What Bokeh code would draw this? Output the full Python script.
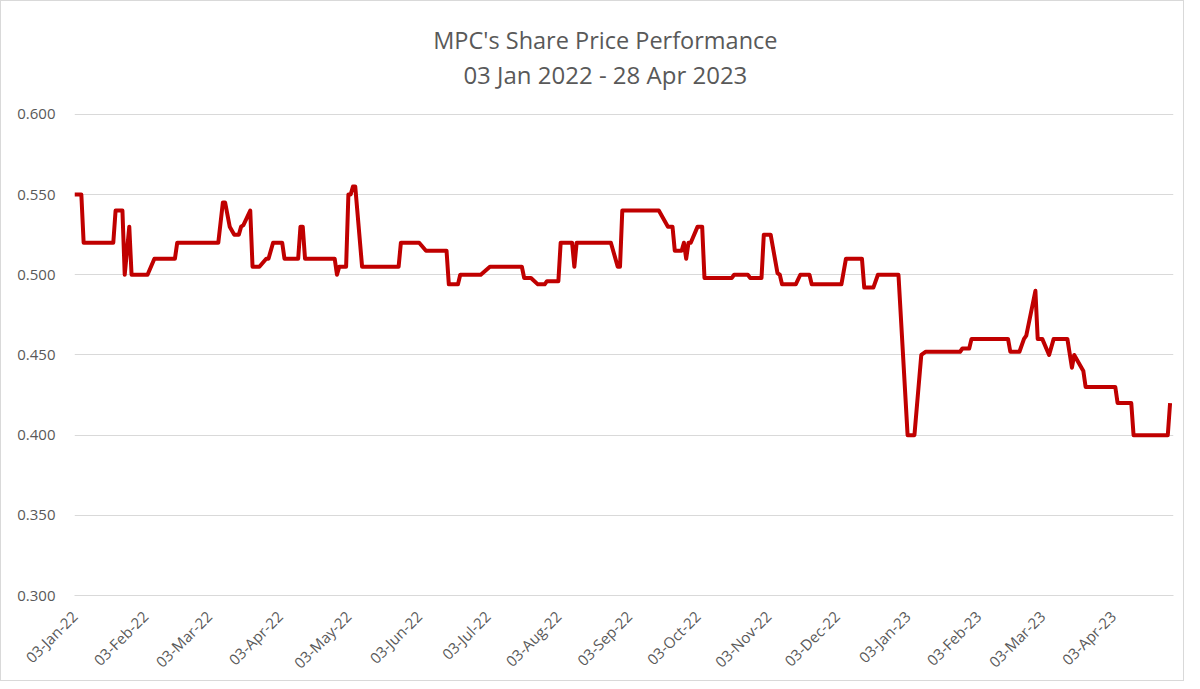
import math
from datetime import datetime
import pandas as pd
from bokeh.plotting import figure
from bokeh.models import FixedTicker, DatetimeTickFormatter, NumeralTickFormatter, Range1d, Label
from bokeh.embed import file_html
from bokeh.resources import INLINE

dates = [
    "2022-01-03", "2022-01-06", "2022-01-07", "2022-01-20", "2022-01-21", "2022-01-24",
    "2022-01-25", "2022-01-27", "2022-01-28", "2022-02-04", "2022-02-07", "2022-02-16",
    "2022-02-17", "2022-03-07", "2022-03-09", "2022-03-10", "2022-03-12", "2022-03-14",
    "2022-03-16", "2022-03-17", "2022-03-18", "2022-03-21", "2022-03-22", "2022-03-25",
    "2022-03-28", "2022-03-29", "2022-03-31", "2022-04-04", "2022-04-05", "2022-04-11",
    "2022-04-12", "2022-04-13", "2022-04-14", "2022-04-27", "2022-04-28", "2022-04-29",
    "2022-05-02", "2022-05-03", "2022-05-04", "2022-05-05", "2022-05-06", "2022-05-09",
    "2022-05-25", "2022-05-26", "2022-06-03", "2022-06-06", "2022-06-15", "2022-06-16",
    "2022-06-20", "2022-06-21", "2022-06-30", "2022-07-04", "2022-07-18", "2022-07-19",
    "2022-07-22", "2022-07-25", "2022-07-28", "2022-07-29", "2022-08-03", "2022-08-04",
    "2022-08-09", "2022-08-10", "2022-08-11", "2022-08-26", "2022-08-29", "2022-08-30",
    "2022-08-31", "2022-09-16", "2022-09-20", "2022-09-22", "2022-09-23", "2022-09-26",
    "2022-09-27", "2022-09-28", "2022-09-29", "2022-09-30", "2022-10-03", "2022-10-05",
    "2022-10-06", "2022-10-18", "2022-10-19", "2022-10-25", "2022-10-26", "2022-10-31",
    "2022-11-01", "2022-11-04", "2022-11-07", "2022-11-08", "2022-11-09", "2022-11-15",
    "2022-11-17", "2022-11-21", "2022-11-22", "2022-12-05", "2022-12-07", "2022-12-14",
    "2022-12-15", "2022-12-19", "2022-12-21", "2022-12-30", "2023-01-03", "2023-01-06",
    "2023-01-09", "2023-01-11", "2023-01-26", "2023-01-27", "2023-01-30", "2023-01-31",
    "2023-02-16", "2023-02-17", "2023-02-21", "2023-02-23", "2023-02-24", "2023-02-28",
    "2023-03-01", "2023-03-03", "2023-03-06", "2023-03-08", "2023-03-14", "2023-03-16",
    "2023-03-17", "2023-03-21", "2023-03-22", "2023-04-04", "2023-04-05", "2023-04-11",
    "2023-04-12", "2023-04-27", "2023-04-28",
]
prices = [
    0.550, 0.550, 0.520, 0.520, 0.540, 0.540,
    0.500, 0.530, 0.500, 0.500, 0.510, 0.510,
    0.520, 0.520, 0.545, 0.545, 0.530, 0.525,
    0.525, 0.530, 0.531, 0.540, 0.505, 0.505,
    0.510, 0.510, 0.520, 0.520, 0.510, 0.510,
    0.530, 0.530, 0.510, 0.510, 0.500, 0.505,
    0.505, 0.550, 0.550, 0.555, 0.555, 0.505,
    0.505, 0.520, 0.520, 0.515, 0.515, 0.494,
    0.494, 0.500, 0.500, 0.505, 0.505, 0.498,
    0.498, 0.494, 0.494, 0.496, 0.496, 0.520,
    0.520, 0.505, 0.520, 0.520, 0.505, 0.505,
    0.540, 0.540, 0.530, 0.530, 0.515, 0.515,
    0.520, 0.510, 0.520, 0.520, 0.530, 0.530,
    0.498, 0.498, 0.500, 0.500, 0.498, 0.498,
    0.525, 0.525, 0.501, 0.500, 0.494, 0.494,
    0.500, 0.500, 0.494, 0.494, 0.510, 0.510,
    0.492, 0.492, 0.500, 0.500, 0.400, 0.400,
    0.450, 0.452, 0.452, 0.454, 0.454, 0.460,
    0.460, 0.452, 0.452, 0.460, 0.462, 0.490,
    0.460, 0.460, 0.450, 0.460, 0.460, 0.442,
    0.450, 0.440, 0.430, 0.430, 0.420, 0.420,
    0.400, 0.400, 0.420,
]
tick_dates = [
    "2022-01-03", "2022-02-03", "2022-03-03", "2022-04-03", "2022-05-03", "2022-06-03",
    "2022-07-03", "2022-08-03", "2022-09-03", "2022-10-03", "2022-11-03", "2022-12-03",
    "2023-01-03", "2023-02-03", "2023-03-03", "2023-04-03",
]
y_ticks = [0.300, 0.350, 0.400, 0.450, 0.500, 0.550, 0.600]
title_line1 = "MPC's Share Price Performance"
title_line2 = "03 Jan 2022 - 28 Apr 2023"

FONT = "Open Sans"
GREY = "#595959"

x = pd.to_datetime(dates)

# The value axis runs 0.300-0.600; the empty band above 0.600 holds the two-line title.
p = figure(
    width=1184, height=681,
    x_axis_type="datetime",
    output_backend="svg", toolbar_location=None,
    x_range=Range1d(datetime(2022, 1, 3), datetime(2023, 4, 29, 12)),
    y_range=Range1d(0.3, 0.6629),
    min_border_left=73, min_border_right=12, min_border_top=12, min_border_bottom=86,
    background_fill_color="white", border_fill_color="white",
)
p.styles = {"border": "1px solid #d9d9d9", "box-sizing": "border-box"}

title_x = datetime(2022, 8, 23, 14)
p.add_layout(Label(x=title_x, y=0.6461, text=title_line1,
                   text_align="center", text_baseline="middle",
                   text_font=FONT, text_font_size="23.5px", text_color=GREY))
p.add_layout(Label(x=title_x, y=0.6249, text=title_line2,
                   text_align="center", text_baseline="middle",
                   text_font=FONT, text_font_size="24px", text_color=GREY))

p.line(x, prices, line_color="#c00000", line_width=4, line_join="round")

p.outline_line_color = None
p.xgrid.grid_line_color = None
p.ygrid.grid_line_color = "#d9d9d9"
p.ygrid.grid_line_width = 1

p.yaxis.ticker = FixedTicker(ticks=y_ticks)
p.yaxis.formatter = NumeralTickFormatter(format="0.000")
p.yaxis.axis_line_color = None
p.yaxis.major_tick_line_color = None
p.yaxis.minor_tick_line_color = None
p.yaxis.major_label_text_font = FONT
p.yaxis.major_label_text_font_size = "15px"
p.yaxis.major_label_text_color = GREY
p.yaxis.major_label_standoff = 13

xt = [pd.Timestamp(d).value / 1e6 for d in tick_dates]
p.xaxis.ticker = FixedTicker(ticks=xt)
fmt = "%d-%b-%y"
p.xaxis.formatter = DatetimeTickFormatter(days=fmt, months=fmt, years=fmt)
p.xaxis.axis_line_color = "#d9d9d9"
p.xaxis.major_tick_line_color = None
p.xaxis.minor_tick_line_color = None
p.xaxis.major_label_orientation = math.pi / 4
p.xaxis.major_label_text_font = FONT
p.xaxis.major_label_text_font_size = "15px"
p.xaxis.major_label_text_color = GREY
p.xaxis.major_label_standoff = 12

open("out.html", "w").write(file_html(p, INLINE))
